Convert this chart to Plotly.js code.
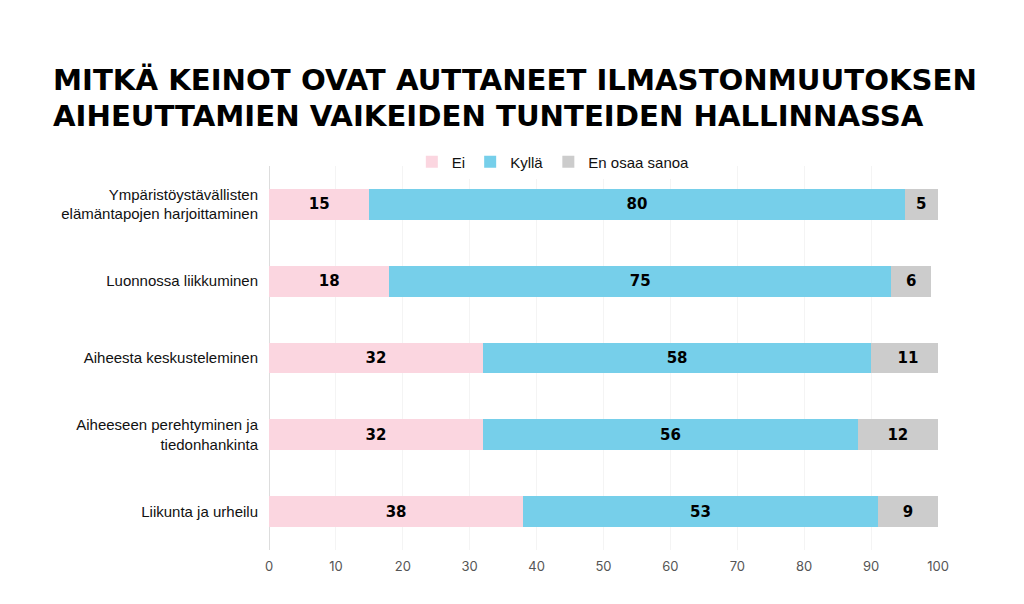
<!DOCTYPE html>
<html><head><meta charset="utf-8">
<script src="https://cdn.plot.ly/plotly-3.0.1.min.js"></script>
<style>html,body{margin:0;padding:0;background:#fff}#c{width:1024px;height:604px}</style>
</head><body><div id="c"></div>
<script>
const categories = [
  "Ympäristöystävällisten<br>elämäntapojen harjoittaminen",
  "Luonnossa liikkuminen",
  "Aiheesta keskusteleminen",
  "Aiheeseen perehtyminen ja<br>tiedonhankinta",
  "Liikunta ja urheilu"
];
const seriesNames = ["Ei", "Kyllä", "En osaa sanoa"];
const ei = [15, 18, 32, 32, 38];
const kylla = [80, 75, 58, 56, 53];
const eos = [5, 6, 11, 12, 9];
const colors = ["#fbd6e0", "#76cfea", "#cccccc"];
const tickVals = [0,10,20,30,40,50,60,70,80,90,100];
const titleLines = ["MITKÄ KEINOT OVAT AUTTANEET ILMASTONMUUTOKSEN", "AIHEUTTAMIEN VAIKEIDEN TUNTEIDEN HALLINNASSA"];

const data = [ei, kylla, eos].map((vals, i) => ({
  type: "bar", orientation: "h", name: seriesNames[i],
  y: categories, x: vals, text: vals.map(String),
  textposition: "inside", insidetextanchor: "middle",
  textfont: {family: "DejaVu Sans", size: 15, color: "#000", weight: 900},
  marker: {color: colors[i]}, width: 0.4, hoverinfo: "none"
}));

const titleFont = {family: "DejaVu Sans", size: 29.2, color: "#000", weight: 900};
const layout = {
  width: 1024, height: 604,
  barmode: "stack",
  paper_bgcolor: "#fff", plot_bgcolor: "#fff",
  margin: {l: 269, r: 86, t: 166, b: 54},
  title: {
    text: titleLines[0],
    font: titleFont,
    xref: "container", yref: "container", x: 53/1024, xanchor: "left",
    y: 1 - 80/604, yanchor: "middle"
  },
  annotations: [{
    text: titleLines[1], showarrow: false, font: titleFont,
    xref: "paper", yref: "paper", x: (51-269)/669, xanchor: "left",
    y: (550 - 116)/384, yanchor: "middle"
  }],
  showlegend: true,
  legend: {orientation: "h", x: 0.425, xanchor: "center", y: (550-162)/384, yanchor: "middle",
    font: {family: "Liberation Sans", size: 15, color: "#111"}, itemwidth: 30, traceorder: "normal"},
  xaxis: {range: [0, 100], tickvals: tickVals, showgrid: true, gridcolor: "#f4f4f4",
    zeroline: true, zerolinecolor: "#dddddd", zerolinewidth: 1, ticklabelstandoff: 7,
    tickfont: {family: "Inter", size: 13, color: "#555"}, fixedrange: true},
  yaxis: {autorange: "reversed", showgrid: false, ticks: "", ticklabelstandoff: 10,
    tickfont: {family: "Liberation Sans", size: 15, color: "#111"}}
};
Plotly.newPlot("c", data, layout, {displayModeBar: false, staticPlot: true});
</script></body></html>
